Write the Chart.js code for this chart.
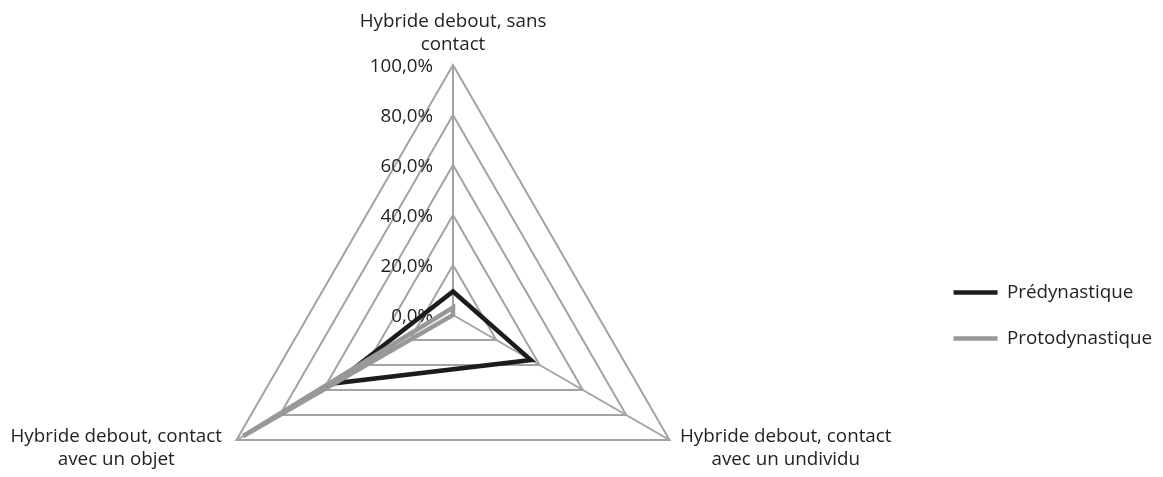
<!DOCTYPE html>
<html lang="fr">
<head>
<meta charset="utf-8">
<title>Hybrides debout</title>
<script src="https://cdn.jsdelivr.net/npm/chart.js@4/dist/chart.umd.min.js"></script>
<style>
  html, body { margin: 0; padding: 0; background: #ffffff; overflow: hidden; }
  #wrap { width: 1163px; height: 477px; }
</style>
</head>
<body>
<div id="wrap"><canvas id="radar" width="1163" height="477"></canvas></div>
<script>
// Axis categories (multi-line labels)
const categories = [
  ['Hybride debout, sans', 'contact'],
  ['Hybride debout, contact', 'avec un undividu'],
  ['Hybride debout, contact', 'avec un objet']
];

// Series (percentages)
const seriesNames = ['Prédynastique', 'Protodynastique'];
const predynastique = [9.4, 36.0, 54.6];
const protodynastique = [3.0, 0.0, 97.0];

// Radial ticks
const tickValues = [0, 20, 40, 60, 80, 100];
const tickLabels = ['0,0%', '20,0%', '40,0%', '60,0%', '80,0%', '100,0%'];

const FONT_FAMILY = '"Open Sans", "Noto Sans", sans-serif';
const FONT_SIZE = 18.8;
const TEXT_COLOR = '#222222';
const GRID_COLOR = '#a3a3a3';

// Placement of the radar web on the canvas
const RADAR = { cx: 453, cy: 315, radius: 250 };

// Tick labels (right-aligned beside the vertical axis) and axis titles
const radarText = {
  id: 'radarText',
  beforeDatasetsDraw(chart) {
    const s = chart.scales.r;
    const ctx = chart.ctx;
    ctx.save();
    ctx.font = FONT_SIZE + 'px ' + FONT_FAMILY;
    ctx.fillStyle = TEXT_COLOR;

    // value labels
    ctx.textAlign = 'right';
    ctx.textBaseline = 'middle';
    tickValues.forEach((v, i) => {
      const y = s.yCenter - s.getDistanceFromCenterForValue(v);
      ctx.fillText(tickLabels[i], s.xCenter - 20, y + 2);
    });

    // category labels, each block centred line by line
    ctx.textAlign = 'center';
    ctx.textBaseline = 'alphabetic';
    const lineH = 23.3;
    chart.data.labels.forEach((lines, i) => {
      const p = s.getPointPosition(i, s.drawingArea);
      const widths = lines.map(t => ctx.measureText(t).width);
      const maxW = Math.max.apply(null, widths);
      if (p.y < s.yCenter - 1) {
        lines.forEach((t, k) => {
          ctx.fillText(t, p.x, p.y - 15 - (lines.length - 1 - k) * lineH);
        });
      } else {
        const cx = p.x > s.xCenter ? p.x + 10.5 + maxW / 2 : p.x - 14.5 - maxW / 2;
        lines.forEach((t, k) => {
          ctx.fillText(t, cx, p.y + 2 + k * lineH);
        });
      }
    });
    ctx.restore();
  }
};

new Chart(document.getElementById('radar'), {
  type: 'radar',
  data: {
    labels: categories,
    datasets: [
      {
        label: seriesNames[0],
        data: predynastique,
        borderColor: '#1c1c1c',
        backgroundColor: '#1c1c1c',
        borderWidth: 4.5,
        borderCapStyle: 'round',
        fill: false,
        pointRadius: 0,
        pointHoverRadius: 0,
        tension: 0,
        clip: false,
        order: 1
      },
      {
        label: seriesNames[1],
        data: protodynastique,
        borderColor: '#989898',
        backgroundColor: '#989898',
        borderWidth: 4.5,
        borderCapStyle: 'round',
        fill: false,
        pointRadius: 0,
        pointHoverRadius: 0,
        tension: 0,
        clip: false,
        order: 0
      }
    ]
  },
  options: {
    responsive: false,
    devicePixelRatio: 1,
    animation: false,
    layout: { padding: { top: 154, right: 1, left: 0, bottom: 0 } },
    scales: {
      r: {
        min: 0,
        max: 100,
        ticks: { display: false, stepSize: 20 },
        grid: { color: GRID_COLOR, lineWidth: 2 },
        angleLines: { color: GRID_COLOR, lineWidth: 2 },
        pointLabels: { display: false },
        afterFit(scale) {
          scale.xCenter = RADAR.cx;
          scale.yCenter = RADAR.cy;
          scale.drawingArea = RADAR.radius;
        }
      }
    },
    plugins: {
      tooltip: { enabled: false },
      legend: {
        position: 'right',
        labels: {
          usePointStyle: true,
          pointStyle: 'line',
          pointStyleWidth: 44,
          padding: 27,
          color: TEXT_COLOR,
          font: { family: FONT_FAMILY, size: FONT_SIZE },
          sort: (a, b) => a.datasetIndex - b.datasetIndex
        }
      }
    }
  },
  plugins: [radarText]
});
</script>
</body>
</html>
